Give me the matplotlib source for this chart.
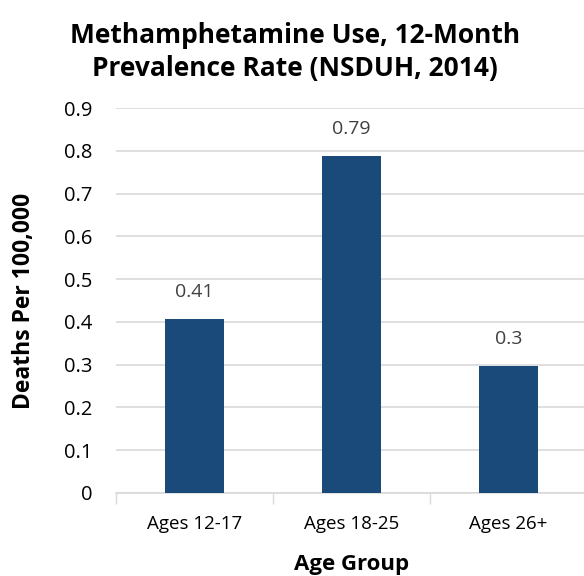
import matplotlib
matplotlib.use("Agg")
import matplotlib.pyplot as plt

categories = ["Ages 12-17", "Ages 18-25", "Ages 26+"]
values = [0.406, 0.787, 0.296]
value_labels = ["0.41", "0.79", "0.3"]
yticks = [0, 0.1, 0.2, 0.3, 0.4, 0.5, 0.6, 0.7, 0.8, 0.9]
ytick_labels = ["0", "0.1", "0.2", "0.3", "0.4", "0.5", "0.6", "0.7", "0.8", "0.9"]

plt.rcParams['font.family'] = ['Open Sans', 'DejaVu Sans']

W, H = 584, 576
fig = plt.figure(figsize=(W / 100, H / 100), dpi=100)
ax = fig.add_axes([116 / W, (H - 493) / H, 471 / W, 385 / H])

x = list(range(len(categories)))
bars = ax.bar(x, values, width=0.37, color="#1a4a7a", zorder=3)
ax.set_xlim(-0.5, 2.5)
ax.set_ylim(0, 0.9)
ax.set_yticks(yticks)
ax.set_yticklabels(ytick_labels, fontsize=14.5)
ax.set_xticks(x)
ax.set_xticklabels(categories, fontsize=13.5)
ax.set_xticks([-0.5, 0.5, 1.5, 2.5], minor=True)
ax.tick_params(axis='x', which='major', length=0, pad=16)
ax.tick_params(axis='x', which='minor', length=8, color="#d9d9d9", width=1)
ax.tick_params(axis='y', length=0, pad=17)
ax.grid(axis='y', color="#d9d9d9", linewidth=1.2, zorder=0)
for s in ["top", "right", "left"]:
    ax.spines[s].set_visible(False)
ax.spines["bottom"].set_color("#d9d9d9")
ax.spines["bottom"].set_linewidth(1.2)

for xi, v, lab in zip(x, values, value_labels):
    ax.annotate(lab, (xi, v), xytext=(0, 13), textcoords="offset points",
                ha="center", va="bottom", fontsize=14, color="#404040")

ax.set_xlabel("Age Group", fontsize=16, fontweight="bold", labelpad=15)
ax.set_ylabel("Deaths Per 100,000", fontsize=16.5, fontweight="bold", labelpad=20)
fig.text(295 / W, 1 - 52 / H, "Methamphetamine Use, 12-Month\nPrevalence Rate (NSDUH, 2014)",
         ha="center", va="center", fontsize=19, fontweight="bold", linespacing=1.3)

fig.savefig("out.png", dpi=100)
